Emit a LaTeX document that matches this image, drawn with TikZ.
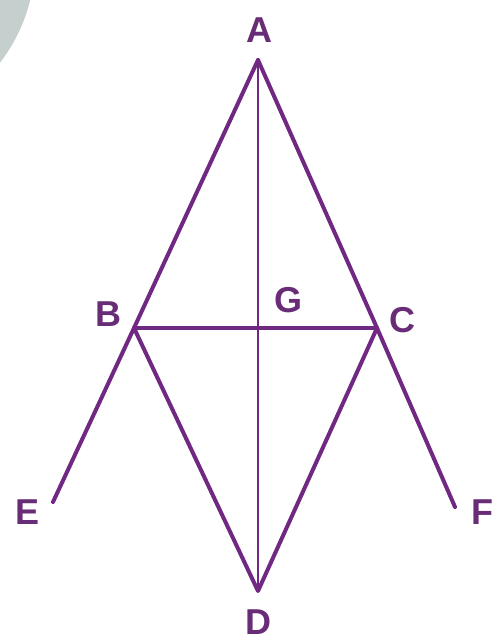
\documentclass[tikz,border=0pt]{standalone}
\usepackage{fontspec}
\setmainfont{Liberation Sans}
\definecolor{geo}{RGB}{112,40,130}
\definecolor{lbl}{RGB}{105,45,120}
\definecolor{blob}{RGB}{197,207,205}
\begin{document}
\begin{tikzpicture}[x=1pt,y=-1pt,
  edge/.style={draw=geo,line width=4pt,line cap=round,line join=round},
  thinedge/.style={edge,line width=2.6pt},
  lab/.style={text=lbl,font=\bfseries\fontsize{36}{36}\selectfont,inner sep=0pt,anchor=center}]
\useasboundingbox (0,0) rectangle (492,642);
\fill[blob] (-133,-40) circle (168);
% vertices
\coordinate (A) at (258,60);
\coordinate (B) at (134,328);
\coordinate (C) at (377,328);
\coordinate (D) at (258,591);
\coordinate (E) at (53,502);
\coordinate (F) at (455,507);
\coordinate (G) at (258,328);
% lines
\draw[thinedge] (A) -- (D);
\draw[edge] (A) -- (B) -- (E);
\draw[edge] (A) -- (C) -- (F);
\draw[edge] (B) -- (C);
\draw[edge] (B) -- (D) -- (C);
% labels
\node[lab] (lA) at (259,30) {A};
\node[lab] (lB) at (108,314) {B};
\node[lab] (lG) at (288,300) {G};
\node[lab] (lC) at (402,320) {C};
\node[lab] (lE) at (28,512) {E};
\node[lab] (lF) at (482,512) {F};
\node[lab] (lD) at (258,622) {D};
\end{tikzpicture}
\end{document}
